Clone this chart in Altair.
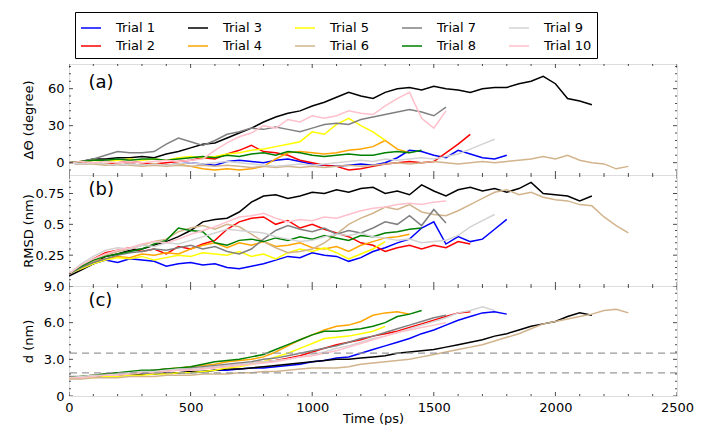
import altair as alt
import pandas as pd

TRIALS = ["Trial 1", "Trial 2", "Trial 3", "Trial 4", "Trial 5",
          "Trial 6", "Trial 7", "Trial 8", "Trial 9", "Trial 10"]
COLORS = {"Trial 1": "#0000ff", "Trial 2": "#ff0000", "Trial 3": "#000000",
          "Trial 4": "#ffa500", "Trial 5": "#ffff00", "Trial 6": "#d2b48c",
          "Trial 7": "#808080", "Trial 8": "#008000", "Trial 9": "#d3d3d3",
          "Trial 10": "#ffc0cb"}
STEP_PS = 50  # sampling interval of the series below (ps)

# (a) Delta Theta (degree)
DTHETA = {
    "Trial 1": [0, -1, 0, -1, -2, -1, -2, -1, -2, -1, 0, -1, -2, 1, 2, 1, 0, 2, 3, 1, -1, -2, -3, -2, -1, -2, 0, 4, 10, 9, 6, 4, 10, 7, 4, 3, 6],
    "Trial 2": [0, 1, 0, -1, 0, 1, 0, -1, 0, 1, 2, 4, 3, 7, 10, 14, 9, 8, 6, 2, 0, -2, -3, -6, -5, -3, -1, 0, 1, 0, 1, 8, 15, 23],
    "Trial 3": [0, 1, 3, 3, 4, 4, 5, 4, 7, 9, 12, 15, 16, 20, 24, 28, 33, 37, 40, 42, 46, 49, 53, 57, 54, 52, 57, 60, 61, 59, 62, 60, 59, 57, 60, 61, 61, 64, 66, 70, 64, 52, 50, 47],
    "Trial 4": [0, -1, 0, -1, -2, -1, -2, -1, -2, -1, -3, -5, -6, -5, -6, -5, -3, 3, 8, 9, 8, 7, 8, 10, 11, 13, 18, 11, 8],
    "Trial 5": [0, 1, 2, 1, 2, 3, 2, 3, 2, 4, 5, 4, 5, 7, 8, 10, 11, 13, 15, 17, 25, 23, 31, 36, 30, 25, 18],
    "Trial 6": [0, -1, -1, -2, -1, -2, -3, -2, -3, -2, -3, -2, -3, -2, -3, -4, -3, -4, -3, -4, -3, -4, -3, -2, -3, -2, -1, 0, -1, 0, 1, 0, -1, 0, 1, 0, 1, 2, 3, 5, 3, 6, 2, 0, -1, -5, -3],
    "Trial 7": [0, 1, 3, 6, 9, 8, 8, 9, 15, 20, 17, 14, 18, 23, 25, 28, 27, 29, 27, 25, 28, 31, 32, 31, 35, 37, 39, 41, 43, 41, 38, 45],
    "Trial 8": [0, 1, 2, 2, 3, 2, 3, 3, 2, 3, 4, 5, 4, 6, 5, 7, 8, 6, 9, 8, 6, 5, 6, 7, 6, 6, 8, 9, 8, 10],
    "Trial 9": [0, -1, 0, -1, -2, -1, -2, -1, -2, -1, 0, -1, 0, 1, 0, -1, -2, -3, -2, -1, -2, -1, 0, 1, 2, 1, 3, 2, 3, 4, 3, 5, 7, 11, 15, 19],
    "Trial 10": [0, 1, 0, 1, 0, 1, 0, 1, 2, 1, 2, 3, 10, 16, 21, 24, 30, 28, 35, 33, 38, 36, 38, 42, 40, 39, 46, 52, 57, 36, 28, 42],
}

# (b) RMSD (nm)
RMSD = {
    "Trial 1": [0.10, 0.14, 0.18, 0.21, 0.19, 0.22, 0.21, 0.20, 0.16, 0.18, 0.19, 0.17, 0.18, 0.15, 0.14, 0.16, 0.18, 0.21, 0.24, 0.23, 0.27, 0.25, 0.24, 0.20, 0.23, 0.28, 0.31, 0.35, 0.38, 0.47, 0.52, 0.34, 0.40, 0.36, 0.38, 0.46, 0.54],
    "Trial 2": [0.10, 0.16, 0.22, 0.27, 0.29, 0.31, 0.28, 0.30, 0.26, 0.32, 0.30, 0.34, 0.37, 0.46, 0.52, 0.55, 0.56, 0.50, 0.53, 0.47, 0.50, 0.46, 0.43, 0.40, 0.35, 0.33, 0.28, 0.31, 0.33, 0.30, 0.33, 0.31, 0.36, 0.34],
    "Trial 3": [0.08, 0.13, 0.18, 0.24, 0.26, 0.29, 0.30, 0.33, 0.36, 0.40, 0.45, 0.52, 0.54, 0.55, 0.60, 0.68, 0.73, 0.74, 0.71, 0.73, 0.76, 0.75, 0.78, 0.76, 0.79, 0.80, 0.75, 0.77, 0.74, 0.82, 0.77, 0.73, 0.78, 0.80, 0.77, 0.79, 0.76, 0.79, 0.84, 0.75, 0.74, 0.73, 0.69, 0.73],
    "Trial 4": [0.10, 0.15, 0.20, 0.22, 0.24, 0.23, 0.26, 0.25, 0.27, 0.26, 0.30, 0.33, 0.35, 0.31, 0.35, 0.33, 0.36, 0.32, 0.33, 0.35, 0.31, 0.30, 0.32, 0.28, 0.33, 0.36, 0.39, 0.40, 0.42],
    "Trial 5": [0.10, 0.14, 0.18, 0.21, 0.23, 0.22, 0.24, 0.21, 0.23, 0.25, 0.24, 0.27, 0.26, 0.25, 0.28, 0.24, 0.26, 0.22, 0.27, 0.30, 0.28, 0.31, 0.27, 0.22, 0.26, 0.30, 0.36],
    "Trial 6": [0.10, 0.15, 0.20, 0.25, 0.28, 0.30, 0.33, 0.36, 0.38, 0.44, 0.47, 0.49, 0.46, 0.50, 0.48, 0.42, 0.36, 0.31, 0.27, 0.28, 0.30, 0.35, 0.42, 0.50, 0.55, 0.59, 0.64, 0.62, 0.66, 0.60, 0.58, 0.57, 0.61, 0.66, 0.71, 0.76, 0.78, 0.74, 0.76, 0.72, 0.70, 0.69, 0.66, 0.65, 0.56, 0.49, 0.43],
    "Trial 7": [0.10, 0.15, 0.19, 0.22, 0.25, 0.27, 0.28, 0.30, 0.29, 0.31, 0.33, 0.30, 0.32, 0.28, 0.26, 0.30, 0.38, 0.45, 0.49, 0.46, 0.44, 0.47, 0.42, 0.45, 0.43, 0.47, 0.52, 0.50, 0.57, 0.49, 0.62, 0.51],
    "Trial 8": [0.10, 0.16, 0.21, 0.24, 0.26, 0.28, 0.30, 0.34, 0.37, 0.47, 0.45, 0.44, 0.35, 0.33, 0.37, 0.38, 0.36, 0.39, 0.37, 0.40, 0.38, 0.41, 0.39, 0.37, 0.41, 0.40, 0.43, 0.44, 0.46, 0.47],
    "Trial 9": [0.10, 0.18, 0.24, 0.29, 0.31, 0.30, 0.33, 0.32, 0.35, 0.34, 0.37, 0.40, 0.43, 0.46, 0.45, 0.44, 0.43, 0.40, 0.38, 0.36, 0.37, 0.40, 0.42, 0.41, 0.43, 0.40, 0.39, 0.37, 0.38, 0.35, 0.36, 0.37, 0.41, 0.48, 0.53, 0.58],
    "Trial 10": [0.10, 0.17, 0.22, 0.26, 0.29, 0.31, 0.34, 0.36, 0.35, 0.38, 0.42, 0.45, 0.48, 0.52, 0.56, 0.57, 0.59, 0.55, 0.52, 0.54, 0.53, 0.56, 0.55, 0.58, 0.61, 0.63, 0.64, 0.66, 0.67, 0.66, 0.68, 0.69],
}

# (c) d (nm)
DIST = {
    "Trial 1": [1.5, 1.5, 1.6, 1.6, 1.7, 1.7, 1.8, 1.8, 1.9, 1.9, 1.9, 2.0, 2.1, 2.1, 2.2, 2.3, 2.3, 2.4, 2.5, 2.6, 2.8, 2.9, 3.1, 3.2, 3.5, 3.8, 4.1, 4.4, 4.7, 5.1, 5.4, 5.8, 6.2, 6.5, 6.8, 6.9, 6.7],
    "Trial 2": [1.5, 1.5, 1.6, 1.7, 1.8, 1.9, 2.0, 2.0, 2.1, 2.2, 2.2, 2.3, 2.4, 2.5, 2.6, 2.7, 2.8, 2.9, 3.1, 3.3, 3.6, 3.9, 4.2, 4.4, 4.6, 4.9, 5.1, 5.3, 5.6, 5.9, 6.2, 6.5, 6.8, 6.9],
    "Trial 3": [1.5, 1.5, 1.6, 1.6, 1.7, 1.7, 1.8, 1.8, 1.9, 1.9, 2.0, 2.0, 2.1, 2.2, 2.2, 2.3, 2.4, 2.5, 2.6, 2.7, 2.8, 2.9, 3.0, 3.0, 3.1, 3.2, 3.3, 3.5, 3.6, 3.7, 3.8, 4.0, 4.2, 4.4, 4.6, 4.9, 5.1, 5.4, 5.7, 5.9, 6.1, 6.5, 6.8, 6.6],
    "Trial 4": [1.5, 1.6, 1.7, 1.8, 1.8, 1.9, 2.0, 2.1, 2.2, 2.3, 2.4, 2.5, 2.6, 2.8, 2.9, 3.0, 3.2, 3.6, 4.1, 4.6, 5.0, 5.4, 5.7, 5.8, 6.1, 6.6, 6.8, 6.9, 6.7],
    "Trial 5": [1.5, 1.5, 1.5, 1.6, 1.6, 1.7, 1.7, 1.8, 1.8, 1.9, 1.9, 2.0, 2.1, 2.3, 2.4, 2.6, 2.8, 3.2, 3.5, 3.9, 4.3, 4.7, 4.8, 4.9, 5.1, 5.3, 5.7],
    "Trial 6": [1.4, 1.4, 1.5, 1.5, 1.5, 1.6, 1.6, 1.6, 1.7, 1.7, 1.7, 1.8, 1.8, 1.8, 1.9, 1.9, 2.0, 2.0, 2.1, 2.2, 2.3, 2.3, 2.3, 2.4, 2.6, 2.7, 2.8, 2.9, 3.0, 3.2, 3.4, 3.6, 3.8, 4.0, 4.2, 4.5, 4.8, 5.1, 5.5, 5.9, 6.1, 6.3, 6.5, 6.7, 7.0, 7.1, 6.8],
    "Trial 7": [1.6, 1.6, 1.7, 1.8, 1.9, 1.9, 2.0, 2.1, 2.2, 2.2, 2.3, 2.4, 2.5, 2.6, 2.7, 2.8, 3.0, 3.1, 3.3, 3.5, 3.7, 3.9, 4.1, 4.4, 4.7, 4.9, 5.2, 5.5, 5.8, 6.1, 6.4, 6.6],
    "Trial 8": [1.5, 1.6, 1.7, 1.8, 1.9, 2.0, 2.1, 2.1, 2.2, 2.3, 2.4, 2.6, 2.8, 2.9, 3.0, 3.2, 3.4, 3.8, 4.2, 4.6, 5.0, 5.3, 5.3, 5.4, 5.5, 5.7, 6.0, 6.5, 6.7, 7.0],
    "Trial 9": [1.5, 1.6, 1.7, 1.7, 1.8, 1.9, 2.0, 2.0, 2.1, 2.2, 2.2, 2.3, 2.4, 2.5, 2.6, 2.7, 2.8, 2.9, 3.0, 3.2, 3.4, 3.6, 3.9, 4.1, 4.4, 4.7, 4.9, 5.2, 5.5, 5.8, 6.1, 6.4, 6.8, 7.0, 7.3, 7.0],
    "Trial 10": [1.5, 1.5, 1.6, 1.7, 1.7, 1.8, 1.9, 1.9, 2.0, 2.1, 2.1, 2.2, 2.3, 2.4, 2.5, 2.6, 2.7, 2.8, 3.0, 3.2, 3.3, 3.5, 3.7, 4.0, 4.3, 4.6, 4.9, 5.2, 5.4, 5.6, 5.8, 6.0],
}

DASHED_D = [1.9, 3.5]

X_LABELS = [0, 500, 1000, 1500, 2000, 2500]
X_MINOR = [100, 200, 300, 400, 600, 700, 800, 900, 1100, 1200, 1300, 1400,
           1600, 1700, 1800, 1900, 2100, 2200, 2300, 2400]
A_TICKS = [0, 30, 60]
A_MINOR = [-6, 6, 12, 18, 24, 36, 42, 48, 54, 66, 72, 78]
B_TICKS = [0.25, 0.5, 0.75]
B_MINOR = [0.05, 0.1, 0.15, 0.2, 0.3, 0.35, 0.4, 0.45, 0.55, 0.6, 0.65, 0.7, 0.8, 0.85]
C_TICKS = [0, 3, 6, 9]
C_MINOR = [0.6, 1.2, 1.8, 2.4, 3.6, 4.2, 4.8, 5.4, 6.6, 7.2, 7.8, 8.4]

PANEL_LABELS = ["(a)", "(b)", "(c)"]
PANEL_LABEL_T = 80
PANEL_LABEL_V = [65, 0.78, 7.8]

W = 608
FONT = "DejaVu Sans"

color_scale = alt.Scale(domain=TRIALS, range=[COLORS[t] for t in TRIALS])
legend = alt.Legend(title=None, orient="none", legendX=6, legendY=-52, columns=5,
                    symbolType="stroke", symbolSize=400, symbolStrokeWidth=1.5,
                    labelFontSize=13, labelFont=FONT, labelColor="black", labelOffset=14,
                    strokeColor="black", fillColor="white", padding=5,
                    columnPadding=21, rowPadding=0, gridAlign="all")


def frame(series):
    rows = []
    for name in TRIALS:
        for i, v in enumerate(series[name]):
            rows.append({"t": i * STEP_PS, "v": v, "trial": name})
    return pd.DataFrame(rows)


def panel(series, ydom, yticks, yminor, ytitle, h, idx, x_axis, ylabelexpr=None, dashed=None):
    XS = alt.Scale(domain=[0, 2500], nice=False, zero=False)
    YS = alt.Scale(domain=ydom, nice=False, zero=False)
    ax_kw = dict(values=yticks, title=ytitle, titleX=-34, titleY=h / 2, titleAngle=270,
                 titleBaseline="bottom", titleAlign="center", titleFontSize=13,
                 titleFontWeight="normal", titleFont=FONT, titleColor="black",
                 labelFontSize=13, labelFont=FONT, labelColor="black", labelPadding=5,
                 ticks=False, domain=False, grid=False, labelFlush=False, labelOverlap=False)
    if ylabelexpr:
        ax_kw["labelExpr"] = ylabelexpr
    yax = alt.Axis(**ax_kw)

    def X(f):
        return alt.X(f, type="quantitative", scale=XS, axis=x_axis)

    def Y(f):
        return alt.Y(f, type="quantitative", scale=YS, axis=yax)

    layers = []
    lines = alt.Chart(frame(series)).mark_line(strokeWidth=1.5, clip=True).encode(
        x=X("t"), y=Y("v"),
        color=alt.Color("trial:N", scale=color_scale, legend=legend),
    )
    layers.append(lines)
    if dashed is not None:
        layers.append(alt.Chart(pd.DataFrame({"h": dashed})).mark_rule(
            color="#999999", strokeDash=[7, 5], strokeWidth=1.3).encode(y=Y("h")))

    xt = pd.DataFrame({"tx": X_LABELS + X_MINOR,
                       "sz": [8] * len(X_LABELS) + [4] * len(X_MINOR)})
    yt = pd.DataFrame({"ty": yticks + yminor,
                       "sz": [8] * len(yticks) + [4] * len(yminor)})
    for yv in (0, h):
        layers.append(alt.Chart(xt).mark_tick(orient="vertical", thickness=1, color="black", clip=True).encode(
            x=X("tx"), y=alt.value(yv), size=alt.Size("sz:Q", scale=None)))
    for xv in (0, W):
        layers.append(alt.Chart(yt).mark_tick(orient="horizontal", thickness=1, color="black", clip=True).encode(
            y=Y("ty"), x=alt.value(xv), size=alt.Size("sz:Q", scale=None)))

    lab = pd.DataFrame({"lx": [PANEL_LABEL_T], "ly": [PANEL_LABEL_V[idx]], "lab": [PANEL_LABELS[idx]]})
    layers.append(alt.Chart(lab).mark_text(align="left", baseline="middle", fontSize=18,
                                           font=FONT, color="black").encode(
        x=X("lx"), y=Y("ly"), text="lab:N"))
    return alt.layer(*layers).properties(width=W, height=h)


x_bottom_axis = alt.Axis(values=X_LABELS, format="d", title="Time (ps)", labelFontSize=13,
                         labelFont=FONT, labelColor="black", labelPadding=5, ticks=False,
                         domain=False, grid=False, labelFlush=False, labelOverlap=False,
                         titleFontSize=13, titleFont=FONT, titleFontWeight="normal",
                         titleColor="black", titleY=16, titleBaseline="top")

pa = panel(DTHETA, [-10, 80], A_TICKS, A_MINOR, "ΔΘ (degree)", 111, 0, None)
pb = panel(RMSD, [0, 0.9], B_TICKS, B_MINOR, "RMSD (nm)", 111, 1, None,
           ylabelexpr="format(datum.value, '.2~f')")
pc = panel(DIST, [0, 9], C_TICKS, C_MINOR, "d (nm)", 110, 2, x_bottom_axis,
           ylabelexpr="datum.value == 0 ? '0' : format(datum.value, '.1f')", dashed=DASHED_D)

chart = alt.vconcat(pa, pb, pc, spacing=0, bounds="flush").properties(
    padding={"left": 21, "top": 11, "right": 5, "bottom": 0}
).configure_view(stroke="black", strokeWidth=1).configure(font=FONT)

chart.save("out.html", embed_options={"renderer": "svg", "actions": False})
